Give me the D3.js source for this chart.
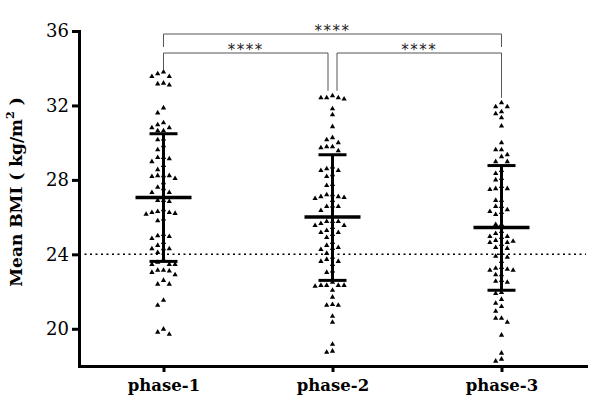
<!DOCTYPE html>
<html><head><meta charset="utf-8">
<script src="https://cdn.jsdelivr.net/npm/d3@7/dist/d3.min.js"></script>
<style>body{margin:0;background:#fff}</style>
</head><body>
<svg id="c" width="600" height="398"></svg>
<script>
const categories = ["phase-1","phase-2","phase-3"];
const phase1 = [33.8,33.7,33.55,33.55,33.2,33.16,33.1,31.87,31.6,31.07,30.96,30.8,30.8,30.64,30.64,30.2,30.16,29.84,29.62,29.2,29.2,29.14,28.98,28.77,28.55,28.23,28.23,28.23,28.18,28.07,27.85,27.6,27.53,27.32,27.32,26.9,26.9,26.84,26.4,26.3,26.25,26.25,26.2,26.15,25.9,25.8,25.07,25.0,24.96,24.85,24.64,24.48,24.3,24.3,24.3,24.1,23.73,23.57,23.46,23.46,23.46,23.14,23.14,23.1,23.03,22.9,22.6,22.4,22.4,21.53,21.26,19.98,19.82,19.71];
const phase2 = [32.52,32.41,32.41,32.41,32.35,31.82,31.5,30.86,30.27,30.16,30.0,29.78,29.78,29.73,29.57,28.7,28.6,28.5,28.5,28.28,28.18,27.75,27.7,27.2,27.2,27.1,27.1,27.05,27.0,26.9,26.6,26.57,26.57,26.35,25.76,25.76,25.76,25.66,25.55,25.55,25.44,25.28,25.17,25.17,25.07,24.9,24.64,24.48,24.37,24.32,24.26,24.05,23.84,23.73,23.62,23.62,23.46,23.1,23.03,22.5,22.33,22.33,22.33,22.33,22.28,22.07,21.7,21.3,21.26,21.26,20.67,20.35,19.17,18.8,18.74];
const phase3 = [32.14,31.93,31.93,31.66,31.55,31.34,30.9,30.0,29.62,29.62,29.35,29.25,28.98,28.98,28.5,28.34,28.07,28.0,27.64,27.53,27.53,27.48,26.9,26.9,26.57,26.57,26.4,26.3,26.25,26.14,25.6,25.6,25.23,25.12,24.96,24.96,24.9,24.75,24.7,24.64,24.64,24.53,24.37,24.32,24.05,23.9,23.84,23.62,23.3,23.25,23.2,23.14,23.14,22.9,22.9,22.6,22.55,22.5,21.95,21.9,21.58,21.37,21.2,20.94,20.57,20.57,20.35,19.66,18.69,18.37,18.26];
const series = [phase1, phase2, phase3];
const means = [27.05, 26.0, 25.44];
const sdHigh = [30.48, 29.35, 28.77];
const sdLow = [23.62, 22.6, 22.07];
const yTicks = [20,24,28,32,36];
const refLine = 24;
const comparisons = [{a:0,b:2,label:"****",level:0},{a:0,b:1,label:"****",level:1},{a:1,b:2,label:"****",level:1}];

const svg = d3.select("#c");
const y = d3.scaleLinear().domain([18,36]).range([366,31]);
const x = d3.scalePoint().domain(categories).range([79,586]).padding(0.5);

// dotted reference line
svg.append("line").attr("x1",79).attr("x2",586).attr("y1",y(refLine)).attr("y2",y(refLine))
  .attr("stroke","#000").attr("stroke-width",1.5).attr("stroke-dasharray","2,3.5");

// beeswarm points
const lane = 5.8, minDy = 5.5;
series.forEach((vals,i)=>{
  const cx = x(categories[i]);
  const placed = [];
  const sorted = vals.slice().sort((a,b)=>b-a);
  sorted.forEach(v=>{
    const py = y(v);
    const order=[0];
    for(let k=1;k<8;k++){order.push(-k,k);}
    let chosen=0;
    for(const o of order){
      if(!placed.some(p=>p.o===o && Math.abs(p.y-py)<minDy)){chosen=o;break;}
    }
    placed.push({o:chosen,y:py});
    svg.append("path").attr("d",d3.symbol(d3.symbolTriangle,12)())
      .attr("transform",`translate(${cx+chosen*lane},${py})`).attr("fill","#000");
  });
});

// mean and SD bars
categories.forEach((c,i)=>{
  const cx = x(c);
  svg.append("line").attr("x1",cx).attr("x2",cx).attr("y1",y(sdLow[i])).attr("y2",y(sdHigh[i])).attr("stroke","#000").attr("stroke-width",3);
  svg.append("line").attr("x1",cx-14).attr("x2",cx+14).attr("y1",y(sdLow[i])).attr("y2",y(sdLow[i])).attr("stroke","#000").attr("stroke-width",3);
  svg.append("line").attr("x1",cx-14).attr("x2",cx+14).attr("y1",y(sdHigh[i])).attr("y2",y(sdHigh[i])).attr("stroke","#000").attr("stroke-width",3);
  svg.append("line").attr("x1",cx-28).attr("x2",cx+28).attr("y1",y(means[i])).attr("y2",y(means[i])).attr("stroke","#000").attr("stroke-width",3.5);
});

// axes
const yAxis = svg.append("g").attr("transform","translate(79,0)")
  .call(d3.axisLeft(y).tickValues(yTicks).tickSize(7).tickSizeOuter(0).tickPadding(3));
const xAxis = svg.append("g").attr("transform","translate(0,366)")
  .call(d3.axisBottom(x).tickSize(6).tickSizeOuter(0).tickPadding(7));
[yAxis,xAxis].forEach(g=>{
  g.select(".domain").attr("stroke","#000").attr("stroke-width",3).attr("stroke-linecap","square");
  g.selectAll(".tick line").attr("stroke","#000").attr("stroke-width",3);
});
yAxis.selectAll("text").attr("font-family","DejaVu Serif").attr("font-size",18).attr("fill","#000");
xAxis.selectAll("text").attr("font-family","DejaVu Serif").attr("font-size",16.5).attr("font-weight","bold").attr("fill","#000");

// y label
const yl = svg.append("text").attr("transform","translate(22,192) rotate(-90)").attr("text-anchor","middle")
  .attr("font-family","DejaVu Serif").attr("font-weight","bold").attr("font-size",17).attr("fill","#000");
yl.append("tspan").text("Mean BMI ( kg/m");
yl.append("tspan").attr("dy",-8).attr("font-size",11).text("2");
yl.append("tspan").attr("dy",8).text(" )");

// significance brackets
const levelY = [34, 53];
function topOf(i){return y(d3.max(series[i]))-5;}
comparisons.forEach(cmp=>{
  const ly = levelY[cmp.level];
  let xa = x(categories[cmp.a]), xb = x(categories[cmp.b]);
  if(cmp.level===1 && cmp.a===0 && cmp.b===1) xb -= 4.5;
  if(cmp.level===1 && cmp.a===1 && cmp.b===2) xa += 4.5;
  const ya = cmp.level===0 ? 47 : (cmp.a===0 ? 70 : topOf(cmp.a));
  const yb = cmp.level===0 ? 47 : topOf(cmp.b);
  svg.append("path").attr("d",`M${xa},${ya}V${ly}H${xb}V${yb}`).attr("fill","none").attr("stroke","#555").attr("stroke-width",1);
  svg.append("text").attr("x",(xa+xb)/2).attr("y",ly+2).attr("text-anchor","middle")
    .attr("font-family","DejaVu Sans").attr("font-size",15).attr("letter-spacing",1.5).attr("fill","#222").text(cmp.label);
});
</script>
</body></html>
